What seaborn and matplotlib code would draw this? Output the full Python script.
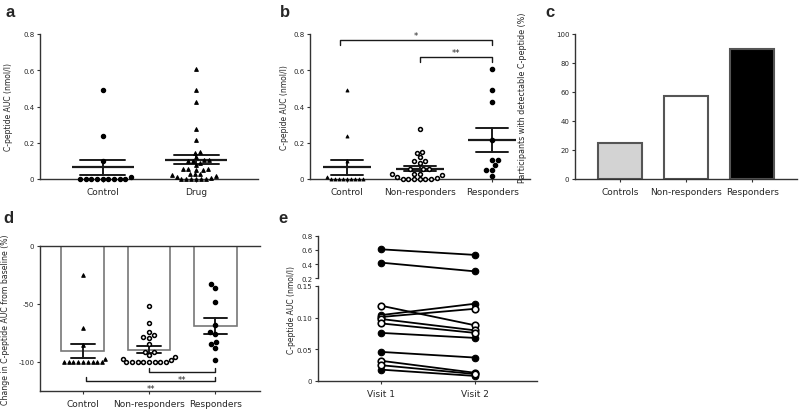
import matplotlib
matplotlib.use("Agg")
import matplotlib.pyplot as plt
import seaborn as sns
import numpy as np
import pandas as pd

sns.set_style("white")
plt.rcParams['font.family'] = ['DejaVu Sans']

# ---- panel a / b : C-peptide AUC (nmol/l)
control_auc = [0.49, 0.24, 0.10, 0.012, 0, 0, 0, 0, 0, 0, 0, 0, 0]
nonresp_auc = [0.276, 0.147, 0.145, 0.12, 0.10, 0.097, 0.09, 0.055, 0.053, 0.053,
               0.03, 0.03, 0.025, 0.02, 0.01, 0.005, 0, 0, 0, 0, 0, 0]
resp_auc = [0.605, 0.493, 0.423, 0.217, 0.107, 0.107, 0.077, 0.051, 0.051, 0.015]
drug_auc = nonresp_auc + resp_auc

order_a = ['Control', 'Drug']
order_b = ['Control', 'Non-responders', 'Responders']

# ---- panel c : detectable C-peptide (%)
detect_groups = ['Controls', 'Non-responders', 'Responders']
detect_pct = [25, 57, 90]
detect_colors = ['#d3d3d3', 'white', 'black']

# ---- panel d : change from baseline (%)
control_chg = [-25, -71, -85, -97, -100, -100, -100, -100, -100, -100, -100, -100, -100]
nonresp_chg = [-52, -66, -74, -77, -78.5, -79.5, -84.5, -91, -91.5, -94, -96, -97, -98,
               -100, -100, -100, -100, -100, -100, -100, -100]
resp_chg = [-33, -36, -48, -68, -74, -76, -82.5, -84.5, -88, -98]

# ---- panel e : paired visits
visit_labels = ['Visit 1', 'Visit 2']
visit1_auc = [0.61, 0.42, 0.119, 0.104, 0.101, 0.098, 0.091, 0.076, 0.046, 0.032, 0.025, 0.018]
visit2_auc = [0.53, 0.295, 0.088, 0.122, 0.114, 0.080, 0.076, 0.068, 0.037, 0.013, 0.011, 0.008]
responder = [True, True, False, True, False, False, False, True, True, False, False, True]

# significance brackets: (x1, x2, y, tick, label)
brackets_b = [(-0.1, 2.0, 0.767, -0.028, '*'), (1.0, 2.0, 0.675, -0.03, '**')]
brackets_d = [(1.0, 2.0, -108.6, 3.6, '**'), (0.05, 2.0, -116.6, 3.6, '**')]

SPINE = '#333333'
fig = plt.figure(figsize=(8, 4.14), dpi=100)


def px_axes(left, top, right, bottom):
    return fig.add_axes([left / 800, 1 - bottom / 414, (right - left) / 800, (bottom - top) / 414])


def style_axis(ax, xsize=6.5):
    sns.despine(ax=ax)
    for s in ['left', 'bottom', 'top']:
        ax.spines[s].set_color(SPINE)
        ax.spines[s].set_linewidth(1.0)
    ax.tick_params(axis='y', labelsize=5, length=2.5, width=0.8, color=SPINE, pad=1.5, left=True)
    ax.tick_params(axis='x', labelsize=xsize, length=2.5, width=0.8, color=SPINE, pad=3, bottom=True)
    ax.set_xlabel('')
    ax.set_ylabel('')


def long_df(groups, values):
    rows = []
    for g, vals in zip(groups, values):
        rows += [(g, v) for v in vals]
    return pd.DataFrame(rows, columns=['group', 'value'])


def swarm(ax, df, order, marker, face, size, lw):
    sns.swarmplot(data=df, x='group', y='value', order=order, ax=ax, marker=marker,
                  color=face, edgecolor='black', linewidth=lw, size=size, warn_thresh=1,
                  clip_on=False, zorder=3)


def mean_sem(ax, df, order, width_pt, cap):
    sns.pointplot(data=df, x='group', y='value', order=order, ax=ax, color='#1a1a1a',
                  marker='_', markersize=width_pt, markeredgewidth=1.6, linestyle='none',
                  errorbar='se', capsize=cap, err_kws={'linewidth': 1.4})


def bracket(ax, x1, x2, y, tick, label, text_dy):
    ax.plot([x1, x1, x2, x2], [y + tick, y, y, y + tick], color='#1a1a1a', lw=1.0, clip_on=False)
    ax.text((x1 + x2) / 2, y + text_dy, label, ha='center', va='center', fontsize=6)


# ---------------- panel a
ax_a = px_axes(40, 35, 258, 180)
df_a = long_df(order_a, [control_auc, drug_auc])
swarm(ax_a, df_a[df_a.group == 'Control'], order_a, 'o', 'black', 2.9, 1.0)
swarm(ax_a, df_a[df_a.group == 'Drug'], order_a, '^', 'black', 2.6, 0.8)
mean_sem(ax_a, df_a, order_a, 45, 0.48)
ax_a.set_xlim(-0.67, 1.66)
ax_a.set_ylim(0, 0.8)
ax_a.set_yticks([0, 0.2, 0.4, 0.6, 0.8], ['0', '0.2', '0.4', '0.6', '0.8'])
style_axis(ax_a)
ax_a.set_ylabel('C-peptide AUC (nmol/l)', fontsize=5.5, labelpad=7)

# ---------------- panel b
ax_b = px_axes(310, 35, 530, 180)
df_b = long_df(order_b, [control_auc, nonresp_auc, resp_auc])
swarm(ax_b, df_b[df_b.group == 'Control'], order_b, '^', 'black', 2.2, 0.6)
swarm(ax_b, df_b[df_b.group == 'Non-responders'], order_b, 'o', 'white', 2.8, 1.1)
swarm(ax_b, df_b[df_b.group == 'Responders'], order_b, 'o', 'black', 3.0, 1.0)
mean_sem(ax_b, df_b, order_b, 35, 0.44)
for x1, x2, y, t, lab in brackets_b:
    bracket(ax_b, x1, x2, y, t, lab, 0.025)
ax_b.set_xlim(-0.51, 2.52)
ax_b.set_ylim(0, 0.8)
ax_b.set_yticks([0, 0.2, 0.4, 0.6, 0.8], ['0', '0.2', '0.4', '0.6', '0.8'])
style_axis(ax_b)
ax_b.set_ylabel('C-pepide AUC (nmol/l)', fontsize=5.5, labelpad=3)

# ---------------- panel c
ax_c = px_axes(575, 35, 797, 180)
sns.barplot(x=detect_groups, y=detect_pct, hue=detect_groups, palette=detect_colors,
            legend=False, edgecolor='#555555', linewidth=1.5, width=0.66, ax=ax_c)
ax_c.set_xlim(-0.68, 2.68)
ax_c.set_ylim(0, 100)
ax_c.set_yticks([0, 20, 40, 60, 80, 100])
style_axis(ax_c)
ax_c.set_ylabel('Participants with detectable C-peptide (%)', fontsize=5.8)
ax_c.yaxis.set_label_coords(-0.215, 0.57)

# ---------------- panel d
ax_d = px_axes(40, 247, 260, 392)
df_d = long_df(order_b, [control_chg, nonresp_chg, resp_chg])
sns.barplot(data=df_d, x='group', y='value', order=order_b, color='white',
            edgecolor='#777777', linewidth=1.2, width=0.65, errorbar='se', capsize=0.35,
            err_kws={'color': '#1a1a1a', 'linewidth': 1.4}, ax=ax_d)
swarm(ax_d, df_d[df_d.group == 'Control'], order_b, '^', 'black', 2.5, 0.8)
swarm(ax_d, df_d[df_d.group == 'Non-responders'], order_b, 'o', 'white', 2.8, 1.1)
swarm(ax_d, df_d[df_d.group == 'Responders'], order_b, 'o', 'black', 3.0, 1.0)
for x1, x2, y, t, lab in brackets_d:
    bracket(ax_d, x1, x2, y, t, lab, -6.5)
ax_d.set_xlim(-0.65, 2.68)
ax_d.set_ylim(-125, 0)
ax_d.set_yticks([0, -50, -100], ['0', '-50', '-100'])
style_axis(ax_d)
ax_d.spines['top'].set_visible(True)
ax_d.set_ylabel('Change in C-peptide AUC from baseline (%)', fontsize=5.6, labelpad=6)

# ---------------- panel e (broken y axis)
ax_e = px_axes(318, 287, 537, 382)
ax_e2 = px_axes(318, 237, 537, 279)
rows = []
for i, (v1, v2, r) in enumerate(zip(visit1_auc, visit2_auc, responder)):
    rows.append((i, 0, v1, r))
    rows.append((i, 1, v2, r))
df_e = pd.DataFrame(rows, columns=['subject', 'visit', 'auc', 'resp'])
df_e['upper'] = df_e.groupby('subject')['auc'].transform('max') > 0.15
for ax, part in [(ax_e, df_e[~df_e.upper]), (ax_e2, df_e[df_e.upper])]:
    sns.lineplot(data=part, x='visit', y='auc', units='subject', estimator=None,
                 color='black', lw=1.3, ax=ax, legend=False)
    sns.scatterplot(data=part[part.resp], x='visit', y='auc', color='black', s=22,
                    edgecolor='black', linewidth=0.8, ax=ax, zorder=3, legend=False)
    sns.scatterplot(data=part[~part.resp], x='visit', y='auc', color='white', s=22,
                    edgecolor='black', linewidth=1.2, ax=ax, zorder=3, legend=False)
    ax.set_xlim(-0.665, 1.66)

ax_e.set_ylim(0, 0.15)
ax_e.set_yticks([0, 0.05, 0.10, 0.15], ['0', '0.05', '0.10', '0.15'])
ax_e.set_xticks([0, 1], visit_labels)
style_axis(ax_e)
ax_e2.set_ylim(0.2, 0.8)
ax_e2.set_yticks([0.2, 0.4, 0.6, 0.8], ['0.2', '0.4', '0.6', '0.8'])
style_axis(ax_e2)
ax_e2.spines['bottom'].set_visible(False)
ax_e2.set_xticks([])
fig.text(292 / 800, 1 - 310 / 414, 'C-peptide AUC (nmol/l)', rotation=90,
         ha='center', va='center', fontsize=5.5)

# panel letters
for lab, x, y in [('a', 5, 17), ('b', 280, 17), ('c', 545, 17), ('d', 3, 223), ('e', 278, 223)]:
    fig.text(x / 800, 1 - y / 414, lab, fontsize=12, fontweight='bold',
             family=['Liberation Sans', 'DejaVu Sans'], va='baseline')

fig.savefig('out.png', dpi=100)
